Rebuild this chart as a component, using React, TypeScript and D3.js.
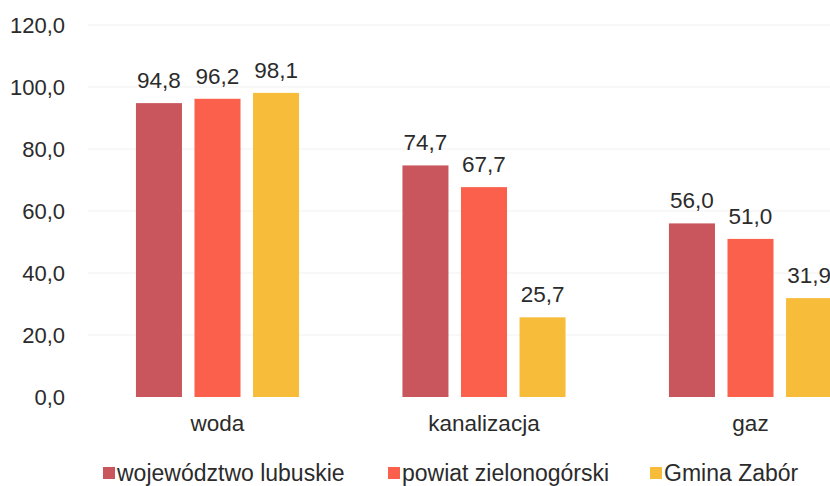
import React from "react";
import * as d3 from "d3";

const categories = ["woda", "kanalizacja", "gaz"];
const seriesNames = ["województwo lubuskie", "powiat zielonogórski", "Gmina Zabór"];
const wojewodztwo = [94.8, 74.7, 56.0];
const powiat = [96.2, 67.7, 51.0];
const gmina = [98.1, 25.7, 31.9];
const yTicks = [0, 20, 40, 60, 80, 100, 120];
const colors = ["#C9565C", "#FA604B", "#F7BC3A"];

const seriesValues = [wojewodztwo, powiat, gmina];

const W = 830;
const H = 486;
const FONT = "'Liberation Sans', Arial, sans-serif";
const TEXT = "#2b2b2b";

const locale = d3.formatLocale({ decimal: ",", thousands: " ", grouping: [3], currency: ["", " zł"] });
const fmt = locale.format(".1f");

export default function App() {
  const y = d3.scaleLinear().domain([0, 120]).range([397, 25]);
  const x0 = d3
    .scaleBand<string>()
    .domain(categories)
    .range([84.25, 883.75])
    .paddingInner(0.388)
    .paddingOuter(0.194);
  const x1 = d3
    .scaleBand<string>()
    .domain(seriesNames)
    .range([0, x0.bandwidth()])
    .paddingInner(0.214)
    .paddingOuter(0);

  // legend layout
  const legendX = [103, 388, 650];

  return (
    <svg
      width={W}
      height={H}
      style={{ position: "absolute", left: 0, top: 0, background: "#fff" }}
      fontFamily={FONT}
    >
      <rect x={0} y={0} width={W} height={H} fill="#fff" />
      {yTicks.map((t) => (
        <g key={t}>
          {t > 0 && (
            <line x1={88} x2={W} y1={y(t)} y2={y(t)} stroke="#f1f1f1" strokeWidth={1} />
          )}
          <text
            x={65}
            y={y(t)}
            dy="0.36em"
            textAnchor="end"
            fontSize={22}
            fill={TEXT}
          >
            {fmt(t)}
          </text>
        </g>
      ))}
      {categories.map((c, ci) => (
        <g key={c} transform={`translate(${x0(c)},0)`}>
          {seriesNames.map((s, si) => {
            const v = seriesValues[si][ci];
            const bx = x1(s)!;
            return (
              <g key={s}>
                <rect
                  x={bx}
                  y={y(v)}
                  width={x1.bandwidth()}
                  height={y(0) - y(v)}
                  fill={colors[si]}
                />
                <text
                  x={bx + x1.bandwidth() / 2}
                  y={y(v) - 15}
                  textAnchor="middle"
                  fontSize={22.5}
                  fill={TEXT}
                >
                  {fmt(v)}
                </text>
              </g>
            );
          })}
          <text
            x={x0.bandwidth() / 2}
            y={431}
            textAnchor="middle"
            fontSize={22.5}
            fill={TEXT}
          >
            {c}
          </text>
        </g>
      ))}
      {seriesNames.map((s, si) => (
        <g key={s} transform={`translate(${legendX[si]},0)`}>
          <rect x={0} y={467} width={12} height={12} fill={colors[si]} />
          <text x={14} y={481} fontSize={23} fill={TEXT}>
            {s}
          </text>
        </g>
      ))}
    </svg>
  );
}
